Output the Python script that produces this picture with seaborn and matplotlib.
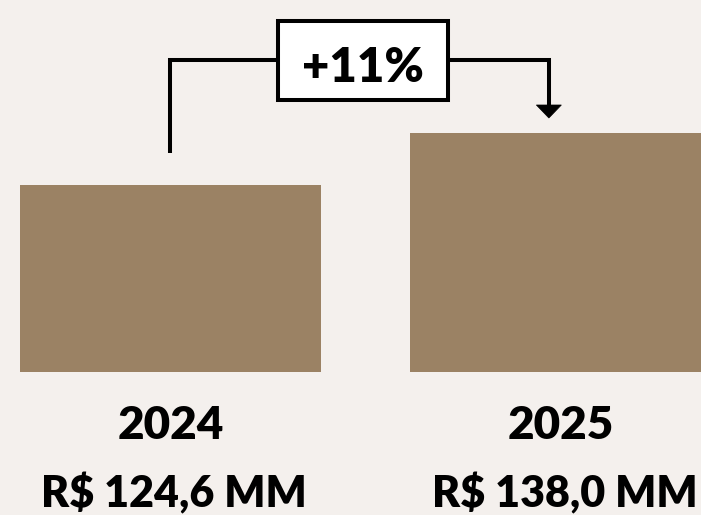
import matplotlib
matplotlib.use("Agg")
import matplotlib.pyplot as plt
import seaborn as sns
import pandas as pd
from matplotlib.patches import Rectangle, Polygon
from matplotlib import transforms

# Data
years = ["2024", "2025"]
revenue = [124.6, 138.0]
value_labels = ["R$ 124,6 MM", "R$ 138,0 MM"]
growth_label = "+11%"

BG = "#F4F0ED"
BAR = "#9B8264"
INK = "#000000"

sns.set_theme(style="white")
plt.rcParams["font.family"] = ["Lato", "DejaVu Sans"]

W, H = 701, 515
fig = plt.figure(figsize=(W / 100, H / 100), dpi=100, facecolor=BG)

# Bar area: baseline sits 143 px above the bottom edge
ax = fig.add_axes([0, 143 / H, 1, 372 / H])
ax.set_facecolor(BG)

df = pd.DataFrame({"year": years, "revenue": revenue})
sns.barplot(data=df, x="year", y="revenue", color=BAR, width=0.772,
            saturation=1, linewidth=0, ax=ax)

y_base = 76.4
px_per_unit = 3.88
ax.set_xlim(-0.437, 1.360)
ax.set_ylim(y_base, y_base + 372 / px_per_unit)
ax.axis("off")

# Year and value labels under each bar
lab = transforms.blended_transform_factory(ax.transData, fig.transFigure)
for i, (yr, vl) in enumerate(zip(years, value_labels)):
    ax.text(i, 76 / H, yr, transform=lab, ha="center", va="baseline",
            fontsize=33, fontweight="heavy", color=INK, clip_on=False)
    ax.text(i + 0.01, 8 / H, vl, transform=lab, ha="center", va="baseline",
            fontsize=31, fontweight="heavy", color=INK, clip_on=False)

# Growth bracket from the first bar to the second
lw = 2.9
bracket_y = y_base + 312 / px_per_unit
left_x = 0.0
right_x = 0.97
left_start = revenue[0] + 32 / px_per_unit
tip_y = revenue[1] + 15 / px_per_unit
head_h = 13 / px_per_unit
head_w = 25 / 390

ax.plot([left_x, left_x, right_x, right_x],
        [left_start, bracket_y, bracket_y, tip_y + head_h * 0.5],
        color=INK, lw=lw, solid_joinstyle="miter", solid_capstyle="butt",
        clip_on=False, zorder=3)
ax.add_patch(Polygon([[right_x - head_w / 2, tip_y + head_h],
                      [right_x + head_w / 2, tip_y + head_h],
                      [right_x, tip_y]], closed=True, facecolor=INK,
                     edgecolor=INK, lw=0.5, zorder=4))

box_cx = 0.494
box_w = 0.436
box_h = 79 / px_per_unit
ax.add_patch(Rectangle((box_cx - box_w / 2, bracket_y - box_h / 2), box_w, box_h,
                       facecolor="white", edgecolor=INK, lw=lw, zorder=5))
ax.text(box_cx, bracket_y - 1.0, growth_label, ha="center", va="center_baseline",
        fontsize=34, fontweight="heavy", color=INK, zorder=6)

fig.savefig("out.png", dpi=100, facecolor=BG)
